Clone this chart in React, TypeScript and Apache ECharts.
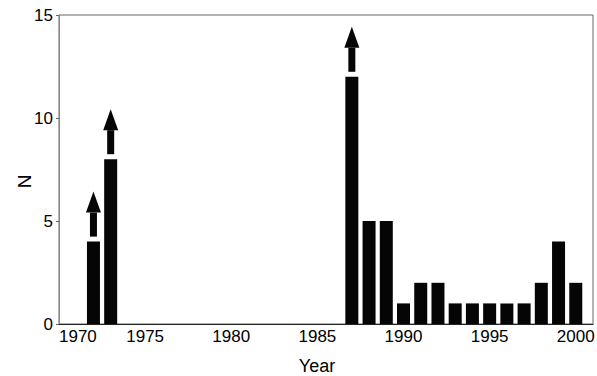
import React, { useEffect, useRef } from "react";
import * as echarts from "echarts";

const years = [1972, 1973, 1987, 1988, 1989, 1990, 1991, 1992, 1993, 1994, 1995, 1996, 1997, 1998, 1999, 2000];
const counts = [4, 8, 12, 5, 5, 1, 2, 2, 1, 1, 1, 1, 1, 2, 4, 2];
// bars whose true value exceeds the drawn one (marked with arrows)
const arrowYears = [1972, 1973, 1987];
const yTicks = [0, 5, 10, 15];
const xTickStep = 5;

export default function App() {
  const ref = useRef<HTMLDivElement>(null);
  useEffect(() => {
    document.body.style.margin = "0";
    const chart = echarts.init(ref.current!, null, { renderer: "svg" });
    const barData = years.map((y, i) => [y, counts[i]]);
    const arrowData = arrowYears.map((y) => [y, counts[years.indexOf(y)]]);
    const font = "Liberation Sans, Arial, sans-serif";
    chart.setOption({
      animation: false,
      backgroundColor: "#fff",
      grid: {
        left: 59,
        top: 15,
        right: 4,
        bottom: 52,
        outerBoundsMode: "none",
        containLabel: false,
        show: true,
        borderColor: "#666",
        borderWidth: 1,
      },
      xAxis: {
        type: "value",
        min: 1970,
        max: 2001,
        interval: xTickStep,
        name: "Year",
        nameLocation: "middle",
        nameMoveOverlap: false,
        nameGap: 33,
        nameTextStyle: { fontFamily: font, fontSize: 18, color: "#000", padding: [0, 18, 0, 0] },
        axisLine: { show: true, lineStyle: { color: "#222", width: 1.2 } },
        axisTick: { show: false },
        splitLine: { show: false },
        axisLabel: {
          fontFamily: font,
          fontSize: 17,
          color: "#000",
          margin: 4,
          showMaxLabel: false,
          alignMinLabel: "left",
          formatter: (v: number) => String(v),
        },
      },
      yAxis: {
        type: "value",
        min: yTicks[0],
        max: yTicks[yTicks.length - 1],
        interval: 5,
        name: "N",
        nameLocation: "middle",
        nameMoveOverlap: false,
        nameGap: 25,
        nameRotate: 90,
        nameTextStyle: { fontFamily: font, fontSize: 19, color: "#000", padding: [0, 24, 0, 0] },
        axisLine: { show: true, lineStyle: { color: "#888", width: 1 } },
        axisTick: { show: true, length: 3, lineStyle: { color: "#666" } },
        splitLine: { show: false },
        axisLabel: { fontFamily: font, fontSize: 17, color: "#000", margin: 6 },
      },
      series: [
        {
          type: "bar",
          data: barData,
          barWidth: 13,
          itemStyle: { color: "#050505" },
        },
        {
          type: "custom",
          data: arrowData,
          clip: false,
          encode: { x: 0, y: 1 },
          renderItem: (params: any, api: any) => {
            const p = api.coord([api.value(0), api.value(1)]);
            const x = p[0];
            const base = p[1] - 6;
            const shaftH = 23;
            const headH = 21;
            const shaftW = 7;
            const headW = 15;
            return {
              type: "group",
              children: [
                {
                  type: "rect",
                  shape: { x: x - shaftW / 2, y: base - shaftH, width: shaftW, height: shaftH + 1 },
                  style: { fill: "#050505" },
                },
                {
                  type: "polygon",
                  shape: {
                    points: [
                      [x - headW / 2, base - shaftH],
                      [x + headW / 2, base - shaftH],
                      [x, base - shaftH - headH],
                    ],
                  },
                  style: { fill: "#050505" },
                },
              ],
            };
          },
        },
      ],
    });
    return () => chart.dispose();
  }, []);
  return <div ref={ref} style={{ width: 597, height: 376 }} />;
}
